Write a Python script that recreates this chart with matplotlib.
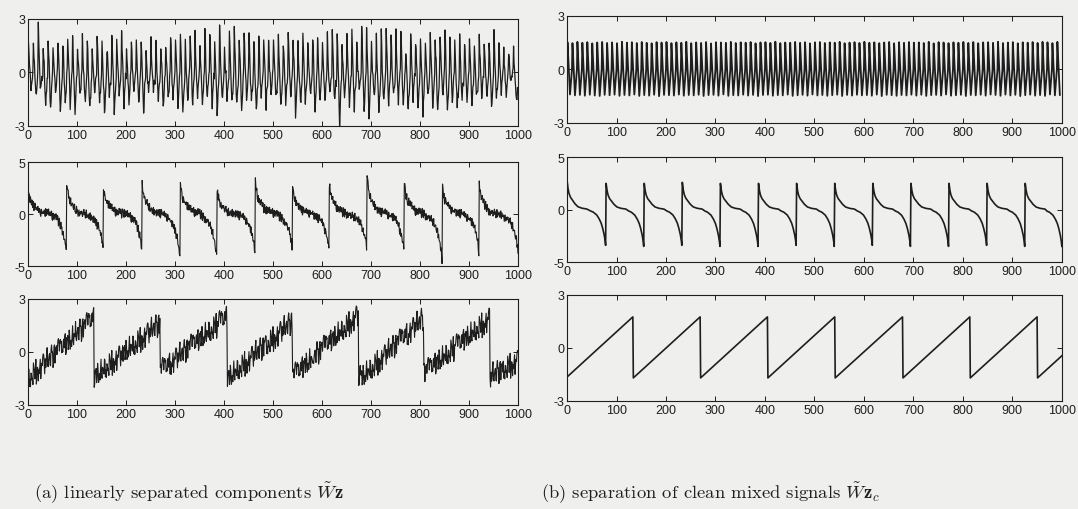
import numpy as np
import matplotlib
matplotlib.use('Agg')
import matplotlib.pyplot as plt

plt.rcParams['font.family'] = ['Liberation Sans', 'DejaVu Sans']
plt.rcParams['axes.unicode_minus'] = False
plt.rcParams['mathtext.fontset'] = 'cm'

# ---------------- data ----------------
x_ticks = [0, 100, 200, 300, 400, 500, 600, 700, 800, 900, 1000]
yticks_small = [-3, 0, 3]
yticks_big = [-5, 0, 5]

# small scribble offsets (typed), used for the noisy left-hand signals
jitter = [0.3, -0.6, 0.8, -0.2, 0.5, -0.9, 0.1, 0.7, -0.4, 0.2, -0.7, 0.9, -0.1, 0.4,
          -0.5, 0.6, -0.3, -0.8, 0.5, 0.0, 0.7, -0.6, 0.3, -0.2, 0.9, -0.7, 0.2, -0.4,
          0.6, -1.0, 0.4, 0.1, -0.3, 0.8, -0.5, 0.3, -0.1, 0.6, -0.8, 0.2, 0.5, -0.4,
          1.0, -0.6, 0.1, -0.2, 0.7, -0.3, 0.4, -0.9, 0.3, 0.6, -0.5, 0.2, -0.1, 0.8,
          -0.7, 0.0, 0.5, -0.4, 0.9, -0.2, 0.3, -0.6, 0.1, 0.7, -0.8, 0.4, -0.3, 0.6,
          -0.1, 0.2, -0.5, 0.8, -0.9, 0.5, 0.1, -0.6, 0.3, -0.2, 0.7, -0.4, 0.6, -0.7,
          0.2, 0.4, -0.3, 0.9, -0.5, 0.0, 0.5, -0.8, 0.3, -0.1, 0.6, -0.4, 0.8]

# row 1: fast oscillation, one cycle every 10 samples
osc_period = 10
osc_peaks_noisy = [1.7, 1.4, 2.5, 1.1, 2.0, 1.3, 1.6, 1.8, 1.5, 1.7,
                   1.5, 1.9, 2.0, 1.2, 2.1, 1.8, 1.4, 2.0, 1.9, 2.1,
                   1.6, 2.1, 1.5, 1.9, 1.3, 1.8, 2.0, 1.4, 1.6, 2.1,
                   1.7, 1.9, 1.5, 1.8, 2.2, 1.3, 2.3, 2.4, 2.0, 2.5,
                   1.5, 2.0, 2.3, 1.8, 2.2, 2.1, 1.6, 2.2, 1.7, 2.0,
                   2.1, 2.3, 1.6, 2.4, 2.0, 1.7, 2.2, 1.5, 1.9, 2.3,
                   1.8, 2.0, 2.2, 2.4, 1.6, 2.1, 2.5, 1.9, 2.5, 2.2,
                   1.5, 1.8, 2.2, 2.3, 1.9, 2.4, 2.1, 1.4, 2.0, 1.8,
                   2.2, 1.6, 2.0, 2.1, 1.7, 2.3, 1.9, 1.5, 2.2, 1.8,
                   2.0, 1.6, 2.3, 1.7, 2.0, 2.2, 1.5, 1.3, 0.9, 1.2]
osc_troughs_noisy = [-0.9, -1.4, -1.0, -1.6, -1.9, -1.2, -2.1, -1.5, -1.8, -2.2,
                     -1.4, -1.7, -2.1, -1.3, -1.9, -2.3, -1.6, -2.0, -1.2, -1.8,
                     -1.5, -1.1, -1.9, -2.0, -1.4, -1.2, -1.7, -2.2, -1.6, -1.3,
                     -1.9, -2.1, -1.4, -1.7, -1.1, -2.0, -1.5, -1.8, -2.1, -1.6,
                     -1.3, -1.9, -1.5, -2.1, -1.4, -1.7, -2.0, -1.2, -1.8, -1.6,
                     -1.6, -2.1, -1.9, -1.4, -2.2, -1.7, -1.9, -1.3, -2.3, -1.5,
                     -1.8, -1.4, -1.7, -2.8, -1.5, -2.0, -1.9, -1.3, -2.1, -2.4,
                     -1.4, -2.0, -1.6, -1.8, -1.1, -1.5, -1.9, -2.2, -1.4, -1.7,
                     -2.1, -1.5, -1.8, -2.0, -1.3, -1.9, -1.6, -2.1, -1.4, -1.8,
                     -2.1, -1.5, -1.7, -1.3, -2.1, -1.6, -1.0, -1.4, -0.6, -1.2]
osc_peak_clean = 1.5
osc_trough_clean = -1.45

# row 2: spike train (peak right after each drop, slow return to zero)
spk_start_clean = [0, 79, 156, 233, 310, 387, 464, 541, 618, 695, 772, 849, 926]
spk_end_clean = [78, 155, 232, 309, 386, 463, 540, 617, 694, 771, 848, 925, 1000]
spk_peak_clean = [2.8, 2.5, 2.5, 2.6, 2.5, 2.5, 2.5, 2.5, 2.5, 2.5, 2.5, 2.5, 2.5]
spk_trough_clean = [-3.4, -3.5, -3.4, -3.5, -3.5, -3.4, -3.5, -3.4, -3.5, -3.5, -3.4, -3.5, -3.5]

spk_start_noisy = [0, 79, 154, 233, 311, 386, 464, 540, 615, 692, 768, 846, 921]
spk_end_noisy = [78, 153, 232, 310, 385, 463, 539, 614, 691, 767, 845, 920, 1000]
spk_peak_noisy = [2.7, 3.1, 2.6, 3.1, 3.0, 2.5, 3.2, 2.8, 2.9, 3.9, 3.0, 2.6, 2.9]
spk_trough_noisy = [-3.5, -3.4, -3.2, -4.4, -4.2, -3.9, -3.1, -3.5, -3.1, -3.6, -4.5, -3.6, -3.6]

# shape of one spike cycle
decay_dt = [0, 1, 2, 4, 7, 11, 16, 22, 30, 40]
decay_frac = [1.0, 0.85, 0.72, 0.55, 0.42, 0.32, 0.2, 0.1, 0.05, 0.02]
rise_dt = [30, 25, 18, 13, 9, 6, 3, 1, 0]
rise_frac = [0.04, 0.07, 0.15, 0.26, 0.38, 0.52, 0.7, 0.87, 1.0]

# row 3: sawtooth
saw_x_clean = [0, 133, 134, 269, 270, 405, 406, 541, 542, 678, 679, 814, 815, 950, 951, 1000]
saw_y_clean = [-1.65, 1.75, -1.7, 1.75, -1.7, 1.75, -1.7, 1.75, -1.7, 1.75, -1.7, 1.75,
               -1.7, 1.75, -1.7, -0.45]
saw_x_noisy = [0, 134, 135, 269, 270, 406, 407, 539, 540, 674, 675, 807, 808, 942, 943, 1000]
saw_y_noisy = [-1.5, 1.9, -1.4, 1.6, -1.1, 2.0, -1.5, 1.7, -1.4, 2.1, -1.6, 1.9, -1.2, 1.9,
               -1.4, -0.5]

captions = [r'(a) linearly separated components $\tilde{W}\mathbf{z}$',
            r'(b) separation of clean mixed signals $\tilde{W}\mathbf{z}_c$']


# ---------------- build the traces ----------------
def osc_trace(peaks, troughs):
    xs, ys = [], []
    for k in range(len(peaks)):
        c = k * osc_period
        xs += [c, c + 1, c + 3.5, c + 6]
        ys += [0.0, peaks[k], 0.0, troughs[k]]
    return np.array(xs), np.array(ys)


def spike_trace(starts, ends, peaks, troughs):
    xs, ys = [], []
    for s, e, p, q in zip(starts, ends, peaks, troughs):
        for d, f in zip(decay_dt, decay_frac):
            xs.append(s + d)
            ys.append(p * f)
        for d, f in zip(rise_dt, rise_frac):
            xs.append(e - d)
            ys.append(q * f)
    return np.array(xs), np.array(ys)


def add_scribble(xs, ys, scale, offset, stride=1):
    grid = np.arange(0, 1001, 1)
    base = np.interp(grid, xs, ys)
    n = len(jitter)
    noise = np.array([jitter[(i * stride + offset + i // n) % n] for i in range(len(grid))])
    return grid, base + scale * noise


top_l = add_scribble(*osc_trace(osc_peaks_noisy, osc_troughs_noisy), 0.4, 5, 7)
top_r = osc_trace([osc_peak_clean + 0.05 * jitter[k % len(jitter)] for k in range(100)],
                  [osc_trough_clean + 0.05 * jitter[(k + 11) % len(jitter)] for k in range(100)])
mid_r = spike_trace(spk_start_clean, spk_end_clean, spk_peak_clean, spk_trough_clean)
mid_l = add_scribble(*spike_trace(spk_start_noisy, spk_end_noisy, spk_peak_noisy,
                                  spk_trough_noisy), 0.5, 13, 3)
bot_r = (np.array(saw_x_clean), np.array(saw_y_clean))
bot_l = add_scribble(np.array(saw_x_noisy), np.array(saw_y_noisy), 0.75, 41, 5)

# ---------------- figure ----------------
paper = '#efefed'
ink = '#1e1e1e'
fig = plt.figure(figsize=(10.78, 5.10), dpi=100, facecolor=paper)

left_col = [(0.026, 0.751, 0.4545, 0.210), (0.026, 0.476, 0.4545, 0.204),
            (0.026, 0.204, 0.4545, 0.208)]
right_col = [(0.526, 0.757, 0.459, 0.210), (0.526, 0.484, 0.459, 0.206),
             (0.526, 0.212, 0.459, 0.208)]
traces = [(top_l, top_r, yticks_small), (mid_l, mid_r, yticks_big), (bot_l, bot_r, yticks_small)]
widths = [(0.9, 1.3), (0.8, 1.2), (0.8, 1.2)]

for row in range(3):
    tl, tr, yt = traces[row]
    lwl, lwr = widths[row]
    for pos, (xs, ys), lw in [(left_col[row], tl, lwl), (right_col[row], tr, lwr)]:
        ax = fig.add_axes(pos)
        ax.set_facecolor(paper)
        ax.plot(xs, ys, color=ink, lw=lw)
        ax.set_xlim(0, 1000)
        ax.set_ylim(yt[0], yt[-1])
        ax.set_xticks(x_ticks)
        ax.set_yticks(yt)
        ax.tick_params(direction='in', top=True, right=True, length=3.5, width=0.7,
                       labelsize=9, pad=2, colors=ink)
        for sp in ax.spines.values():
            sp.set_linewidth(0.8)
            sp.set_color(ink)

fig.text(0.175, 0.034, captions[0], fontfamily='cmr10', fontsize=13.4, ha='center',
         va='center', color=ink)
fig.text(0.659, 0.034, captions[1], fontfamily='cmr10', fontsize=13.4, ha='center',
         va='center', color=ink)

fig.savefig('out.png', dpi=100, facecolor=paper)
